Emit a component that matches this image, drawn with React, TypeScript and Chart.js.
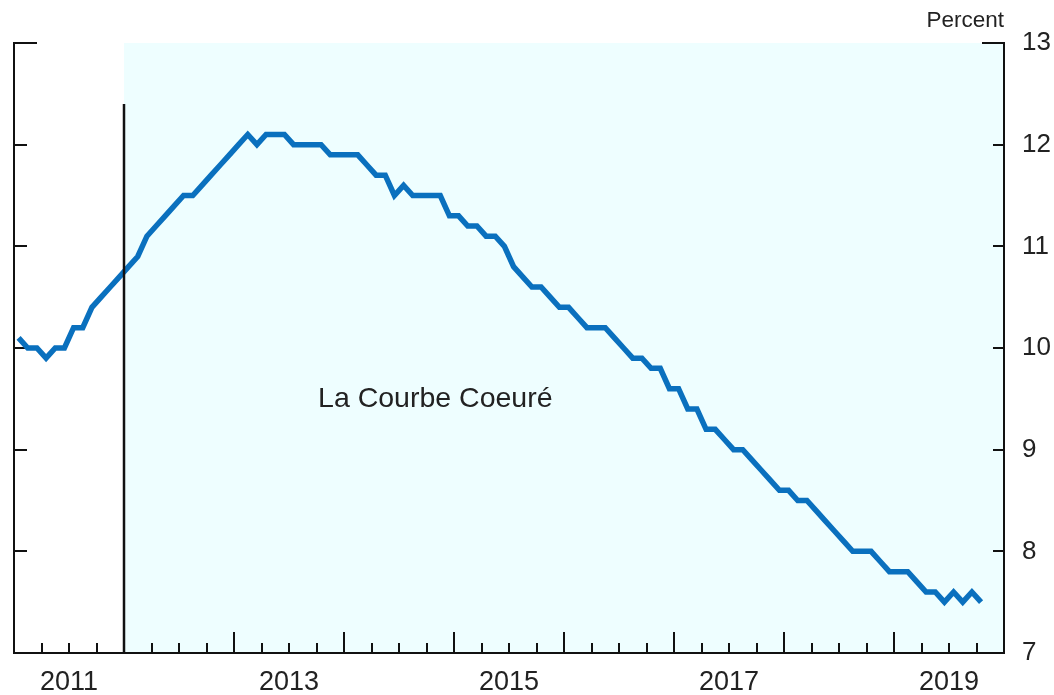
import React, { useEffect, useRef } from 'react';
import { Chart, registerables } from 'chart.js';

Chart.register(...registerables);

// ---- data (monthly, starting January 2011) ----
const START_YEAR = 2011;
const RATE = [
  10.1, 10.0, 10.0, 9.9, 10.0, 10.0, 10.2, 10.2, 10.4, 10.5, 10.6, 10.7,
  10.8, 10.9, 11.1, 11.2, 11.3, 11.4, 11.5, 11.5, 11.6, 11.7, 11.8, 11.9,
  12.0, 12.1, 12.0, 12.1, 12.1, 12.1, 12.0, 12.0, 12.0, 12.0, 11.9, 11.9,
  11.9, 11.9, 11.8, 11.7, 11.7, 11.5, 11.6, 11.5, 11.5, 11.5, 11.5, 11.3,
  11.3, 11.2, 11.2, 11.1, 11.1, 11.0, 10.8, 10.7, 10.6, 10.6, 10.5, 10.4,
  10.4, 10.3, 10.2, 10.2, 10.2, 10.1, 10.0, 9.9, 9.9, 9.8, 9.8, 9.6,
  9.6, 9.4, 9.4, 9.2, 9.2, 9.1, 9.0, 9.0, 8.9, 8.8, 8.7, 8.6,
  8.6, 8.5, 8.5, 8.4, 8.3, 8.2, 8.1, 8.0, 8.0, 8.0, 7.9, 7.8,
  7.8, 7.8, 7.7, 7.6, 7.6, 7.5, 7.6, 7.5, 7.6, 7.5,
];
const YEAR_LABELS = ['2011', '2013', '2015', '2017', '2019'];
const Y_TICK_VALUES = [7, 8, 9, 10, 11, 12, 13];
const X_MIN = 2011;
const X_MAX = 2020;
const Y_MIN = 7;
const Y_MAX = 13;
const SHADE_START = 2012;
const MARKER_X = 2012;
const MARKER_TOP = 12.4;
const ANNOTATION_TEXT = 'La Courbe Coeuré';
const ANNOTATION_X = 2014.83;
const ANNOTATION_Y = 9.42;
const UNIT_LABEL = 'Percent';

const FONT = '"Liberation Sans", Arial, Helvetica, sans-serif';
const TEXT = '#222222';
const AXIS = '#111111';
const LINE_BLUE = '#0A70BE';
const SHADE = '#EEFEFF';

const decorPlugin = {
  id: 'decor',
  beforeDraw(chart: any) {
    const { ctx, chartArea: a, scales } = chart;
    const x = scales.x;
    ctx.save();
    ctx.fillStyle = '#ffffff';
    ctx.fillRect(0, 0, chart.width, chart.height);
    const xs = x.getPixelForValue(SHADE_START);
    ctx.fillStyle = SHADE;
    ctx.fillRect(xs, a.top, a.right - xs, a.bottom - a.top);
    ctx.restore();
  },
  beforeDatasetsDraw(chart: any) {
    const { ctx, chartArea: a, scales } = chart;
    const x = scales.x;
    const y = scales.y;
    ctx.save();
    ctx.strokeStyle = AXIS;
    ctx.lineWidth = 2;
    ctx.lineCap = 'butt';
    ctx.beginPath();
    // quarterly inward ticks on the time axis, yearly ones longer
    for (let q = X_MIN * 4 + 1; q < X_MAX * 4; q++) {
      const px = Math.round(x.getPixelForValue(q / 4));
      const len = q % 4 === 0 ? 21 : 10;
      ctx.moveTo(px, a.bottom);
      ctx.lineTo(px, a.bottom - len);
    }
    // inward ticks on both vertical axes
    Y_TICK_VALUES.forEach((v) => {
      if (v === Y_MIN) return;
      const py = Math.round(y.getPixelForValue(v));
      const top = v === Y_MAX;
      ctx.moveTo(a.left - 1, py);
      ctx.lineTo(a.left + (top ? 23 : 13), py);
      ctx.moveTo(a.right + 1, py);
      ctx.lineTo(a.right - (top ? 22 : 11), py);
    });
    ctx.stroke();

    ctx.fillStyle = TEXT;
    ctx.font = `22.5px ${FONT}`;
    ctx.textAlign = 'right';
    ctx.textBaseline = 'alphabetic';
    ctx.fillText(UNIT_LABEL, a.right, 27);

    ctx.font = `28.5px ${FONT}`;
    ctx.textAlign = 'center';
    ctx.fillText(ANNOTATION_TEXT, x.getPixelForValue(ANNOTATION_X), y.getPixelForValue(ANNOTATION_Y));
    ctx.restore();
  },
};

export default function App() {
  const canvasRef = useRef<HTMLCanvasElement | null>(null);

  useEffect(() => {
    document.body.style.margin = '0';
    const canvas = canvasRef.current;
    if (!canvas) return;

    const ratePoints = RATE.map((v, i) => ({ x: START_YEAR + (i + 0.5) / 12, y: v }));
    const markerPoints = [
      { x: MARKER_X, y: Y_MIN },
      { x: MARKER_X, y: MARKER_TOP },
    ];
    const labelPositions = YEAR_LABELS.map((l) => Number(l) + 0.5);

    const chart = new Chart(canvas, {
      type: 'line',
      data: {
        datasets: [
          {
            label: 'marker',
            data: markerPoints,
            borderColor: AXIS,
            borderWidth: 2.5,
            pointRadius: 0,
            order: 0,
          },
          {
            label: 'rate',
            data: ratePoints,
            borderColor: LINE_BLUE,
            borderWidth: 5.5,
            pointRadius: 0,
            tension: 0,
            borderJoinStyle: 'miter',
            order: 1,
          },
        ],
      },
      options: {
        animation: false,
        responsive: false,
        maintainAspectRatio: false,
        devicePixelRatio: 1,
        layout: { padding: { top: 43, left: 0, right: 0, bottom: 0 } },
        plugins: { legend: { display: false }, tooltip: { enabled: false } },
        scales: {
          x: {
            type: 'linear',
            min: X_MIN,
            max: X_MAX,
            grid: { display: false, drawTicks: false },
            border: { display: true, color: AXIS, width: 2 },
            afterBuildTicks: (s: any) => {
              s.ticks = labelPositions.map((v) => ({ value: v }));
            },
            afterFit: (s: any) => {
              s.height = 42;
            },
            ticks: {
              autoSkip: false,
              maxRotation: 0,
              padding: 13,
              color: TEXT,
              font: { family: FONT, size: 27 },
              callback: (v: any) => {
                const idx = labelPositions.findIndex((p) => Math.abs(p - Number(v)) < 1e-6);
                return idx >= 0 ? YEAR_LABELS[idx] : '';
              },
            },
          },
          y: {
            type: 'linear',
            position: 'right',
            min: Y_MIN,
            max: Y_MAX,
            grid: { display: false, drawTicks: false },
            border: { display: true, color: AXIS, width: 2 },
            afterBuildTicks: (s: any) => {
              s.ticks = Y_TICK_VALUES.map((v) => ({ value: v }));
            },
            afterFit: (s: any) => {
              s.width = 50;
            },
            ticks: {
              padding: 18,
              color: TEXT,
              font: { family: FONT, size: 26 },
              callback: (v: any) => String(v),
            },
          },
          yl: {
            type: 'linear',
            position: 'left',
            min: Y_MIN,
            max: Y_MAX,
            grid: { display: false, drawTicks: false },
            border: { display: true, color: AXIS, width: 2 },
            ticks: { display: false },
            afterFit: (s: any) => {
              s.width = 14;
            },
          },
        },
      },
      plugins: [decorPlugin],
    } as any);

    return () => chart.destroy();
  }, []);

  return (
    <div style={{ width: 1054, height: 695 }}>
      <canvas ref={canvasRef} width={1054} height={695} style={{ display: 'block' }} />
    </div>
  );
}
